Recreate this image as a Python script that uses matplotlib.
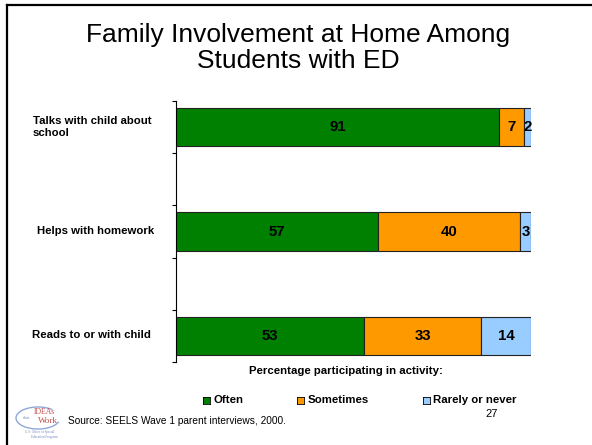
import matplotlib.pyplot as plt
import numpy as np
from matplotlib.patches import Arc
from matplotlib.lines import Line2D

plt.rcParams['font.family'] = ['Liberation Sans', 'DejaVu Sans']

# Данные: доля семей по каждому виду участия
categories = ["Talks with child about\nschool", "Helps with homework", "Reads to or with child"]
often = [91, 57, 53]
sometimes = [7, 40, 33]
rarely = [2, 3, 14]
series_names = ["Often", "Sometimes", "Rarely or never"]
colors = ["#008000", "#FF9900", "#99CCFF"]

W, H = 592, 445
fig = plt.figure(figsize=(W / 100, H / 100), dpi=100)

def fx(px):
    return px / W

def fy(py):
    return 1 - py / H

# рамка слайда
fig.add_artist(Line2D([fx(7), 1.0], [fy(5), fy(5)], color='black', lw=1.6))
fig.add_artist(Line2D([fx(7), fx(7)], [fy(5), 0.0], color='black', lw=1.6))

fig.text(fx(298), fy(48), "Family Involvement at Home Among\nStudents with ED",
         ha='center', va='center', fontsize=19, linespacing=1.08)

ax = fig.add_axes([fx(176), fy(362), fx(531) - fx(176), (362 - 101) / H])
y = np.arange(len(categories))
left = np.zeros(len(categories))
for vals, name, col in zip([often, sometimes, rarely], series_names, colors):
    vals = np.array(vals, dtype=float)
    ax.barh(y, vals, left=left, height=0.365, color=col, edgecolor='#222222', linewidth=0.8)
    for yi, (l, v) in enumerate(zip(left, vals)):
        ax.text(l + v / 2, yi, f"{int(v)}", ha='center', va='center',
                fontsize=10.8, fontweight='bold')
    left += vals

ax.set_xlim(0, 100)
ax.set_ylim(2.25, -0.25)
for s in ['top', 'right', 'bottom']:
    ax.spines[s].set_visible(False)
ax.spines['left'].set_linewidth(0.8)
ax.set_xticks([])
ax.set_yticks([-0.25, 0.25, 0.75, 1.25, 1.75, 2.25])
ax.set_yticklabels([])
ax.tick_params(axis='y', length=3, width=0.8, direction='out')

# подписи категорий
label_x = [92, 96, 91]
for yi, cat in enumerate(categories):
    py = 101 + (yi + 0.25) * 104
    fig.text(fx(label_x[yi]), fy(py), cat, ha='center', va='center', fontsize=8.2,
             fontweight='bold', multialignment='left')

fig.text(fx(346), fy(371), "Percentage participating in activity:", ha='center',
         va='center', fontsize=8.2, fontweight='bold')

# легенда
leg_x = [206.5, 300.5, 426]
for px, name, col in zip(leg_x, series_names, colors):
    ax_l = fig.add_axes([fx(px - 3.5), fy(404), fx(7), 7 / H])
    ax_l.set_facecolor(col)
    ax_l.set_xticks([])
    ax_l.set_yticks([])
    for s in ax_l.spines.values():
        s.set_linewidth(0.6)
    fig.text(fx(px + 7), fy(400), name, ha='left', va='center', fontsize=8.2,
             fontweight='bold')

fig.text(fx(68), fy(421), "Source: SEELS Wave 1 parent interviews, 2000.", ha='left',
         va='center', fontsize=7.3)
fig.text(fx(492), fy(414), "27", ha='center', va='center', fontsize=8)

# логотип IDEAs that Work
lax = fig.add_axes([fx(14), fy(442), fx(52), 38 / H])
lax.set_xlim(0, 52)
lax.set_ylim(38, 0)
lax.axis('off')
lax.add_patch(Arc((24, 14), 44, 22, angle=0, theta1=10, theta2=330, color='#8fa8d8', lw=1.0))
lax.text(30, 8, "IDEAs", ha='center', va='center', fontsize=5.5, color='#c0504d',
         family='Liberation Serif')
lax.text(12, 14, "that", ha='center', va='center', fontsize=3, color='#6f86c0',
         family='Liberation Serif')
lax.text(34, 17, "Work", ha='center', va='center', fontsize=6.5, color='#c0504d',
         family='Liberation Serif')
lax.text(26, 28, "U.S. Office of Special", ha='center', va='center', fontsize=2.3,
         color='#6f86c0', family='Liberation Serif')
lax.text(30, 33, "Education Programs", ha='center', va='center', fontsize=2.3,
         color='#6f86c0', family='Liberation Serif')

fig.savefig("out.png", dpi=100)
